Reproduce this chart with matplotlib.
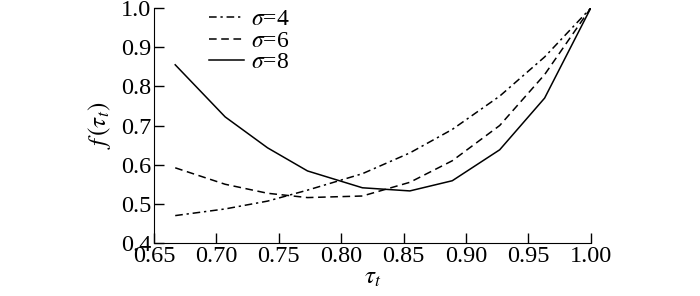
import matplotlib
matplotlib.use("Agg")
import matplotlib.pyplot as plt
import numpy as np

plt.rcParams['font.family'] = ['Liberation Serif', 'DejaVu Serif']
plt.rcParams['mathtext.fontset'] = 'stix'

tau = [0.667, 0.707, 0.741, 0.773, 0.817, 0.855, 0.889, 0.927, 0.963, 1.0]
f_s4 = [0.470, 0.487, 0.507, 0.535, 0.577, 0.630, 0.690, 0.775, 0.875, 1.0]
f_s6 = [0.592, 0.550, 0.527, 0.516, 0.520, 0.555, 0.610, 0.700, 0.830, 1.0]
f_s8 = [0.855, 0.722, 0.643, 0.584, 0.541, 0.533, 0.559, 0.638, 0.770, 1.0]
labels = [r'$\sigma$=4', r'$\sigma$=6', r'$\sigma$=8']

fig = plt.figure(figsize=(7, 2.96), dpi=100)
ax = fig.add_axes([0.22, 0.179, 0.624, 0.794])
ax.plot(tau, f_s4, color='black', lw=1.1, linestyle=(0, (5, 2.5, 1.5, 2.5)), label=labels[0])
ax.plot(tau, f_s6, color='black', lw=1.1, linestyle=(0, (5, 3)), label=labels[1])
ax.plot(tau, f_s8, color='black', lw=1.1, linestyle='-', label=labels[2])

ax.set_xlim(0.65, 1.0)
ax.set_ylim(0.4, 1.0)
ax.set_xticks(np.arange(0.65, 1.001, 0.05))
ax.set_yticks(np.arange(0.4, 1.001, 0.1))
ax.xaxis.set_major_formatter(plt.FormatStrFormatter('%.2f'))
ax.yaxis.set_major_formatter(plt.FormatStrFormatter('%.1f'))
ax.tick_params(direction='in', length=7, labelsize=17.5, width=1, pad=2)
ax.spines['top'].set_visible(False)
ax.spines['right'].set_visible(False)
ax.set_xlabel(r'$\tau_t$', fontsize=18, labelpad=0)
ax.set_ylabel(r'$f\,(\tau_t)$', fontsize=18, labelpad=6)
leg = ax.legend(loc='upper left', bbox_to_anchor=(0.078, 1.087), frameon=False,
                fontsize=17, handlelength=1.45, handletextpad=0.3, labelspacing=0.0)
fig.savefig('out.png', dpi=100)
